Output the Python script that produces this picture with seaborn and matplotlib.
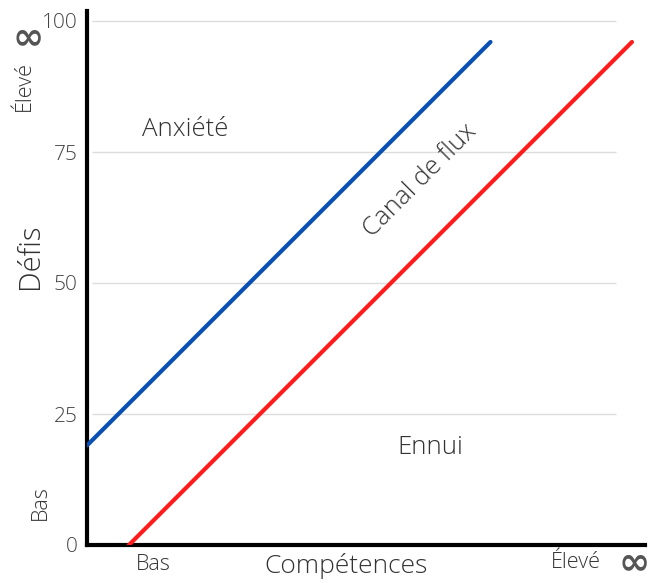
import matplotlib
matplotlib.use("Agg")
import matplotlib.pyplot as plt
import seaborn as sns
import pandas as pd

# Data
anxiety_x = [0, 77]
anxiety_y = [19, 96]
boredom_x = [8, 104]
boredom_y = [0, 96]
y_ticks = [0, 25, 50, 75, 100]
y_ticklabels = ["0", "25", "50", "75", "100"]

sns.set_theme(style="white")
plt.rcParams['font.family'] = ['Open Sans', 'DejaVu Sans']

W, H = 649, 583
fig = plt.figure(figsize=(W / 100, H / 100), dpi=100)
left, right, bottom, top = 87, 645, 545, 11
ax = fig.add_axes([left / W, 1 - bottom / H, (right - left) / W, (bottom - top) / H])

ppu = (545 - 21) / 100.0
ax.set_ylim(0, (bottom - top) / ppu)
ax.set_xlim(0, (right - left) / ppu)

# grid lines
for yv in y_ticks[1:]:
    ax.plot([1, 101], [yv, yv], color="#dddddd", lw=1.0, zorder=1, solid_capstyle="butt")

df = pd.concat([
    pd.DataFrame({"x": anxiety_x, "y": anxiety_y, "s": "anx"}),
    pd.DataFrame({"x": boredom_x, "y": boredom_y, "s": "bor"}),
])
sns.lineplot(data=df, x="x", y="y", hue="s", palette={"anx": "#0a4fb3", "bor": "#ff1c1c"},
             lw=3.0, legend=False, ax=ax, zorder=3, solid_capstyle="round")

ax.set_yticks(y_ticks)
ax.set_yticklabels(y_ticklabels)
ax.set_xticks([])
ax.tick_params(axis="y", length=0, pad=7, labelsize=15, labelcolor="#444444")
for lab in ax.get_yticklabels():
    lab.set_fontweight("light")

for s in ["top", "right"]:
    ax.spines[s].set_visible(False)
for s in ["left", "bottom"]:
    ax.spines[s].set_color("black")
    ax.spines[s].set_linewidth(3)
ax.set_xlabel("")
ax.set_ylabel("")

tc = "#333333"
ax.text(18.7, 79.2, "Anxiété", ha="center", va="center", fontsize=18.5, color=tc, fontweight="light")
ax.text(63.5, 69.5, "Canal de flux", ha="center", va="center", fontsize=18.5, color=tc,
        rotation=45, rotation_mode="anchor", fontweight="light")
ax.text(65.5, 18.7, "Ennui", ha="center", va="center", fontsize=18.5, color=tc, fontweight="light")

def ftext(x, y, s, **kw):
    fig.text(x / W, 1 - y / H, s, **kw)

ftext(30, 256, "Défis", ha="center", va="center", rotation=90, fontsize=21, color=tc, fontweight="light")
ftext(346, 566, "Compétences", ha="center", va="center", fontsize=19, color=tc, fontweight="light")
ftext(153, 564, "Bas", ha="center", va="center", fontsize=15.5, color=tc, fontweight="light")
ftext(576, 563, "Élevé", ha="center", va="center", fontsize=15.5, color=tc, fontweight="light")
ftext(634, 563, "∞", ha="center", va="center", fontsize=27, color="#555555", fontweight="bold",
      family=["DejaVu Sans"])
ftext(40, 503, "Bas", ha="center", va="center", rotation=90, fontsize=15.5, color=tc, fontweight="light")
ftext(24, 86, "Élevé", ha="center", va="center", rotation=90, fontsize=15.5, color=tc, fontweight="light")
ftext(28, 38, "∞", ha="center", va="center", fontsize=27, color="#555555", fontweight="bold",
      family=["DejaVu Sans"])

fig.savefig("out.png", dpi=100)
